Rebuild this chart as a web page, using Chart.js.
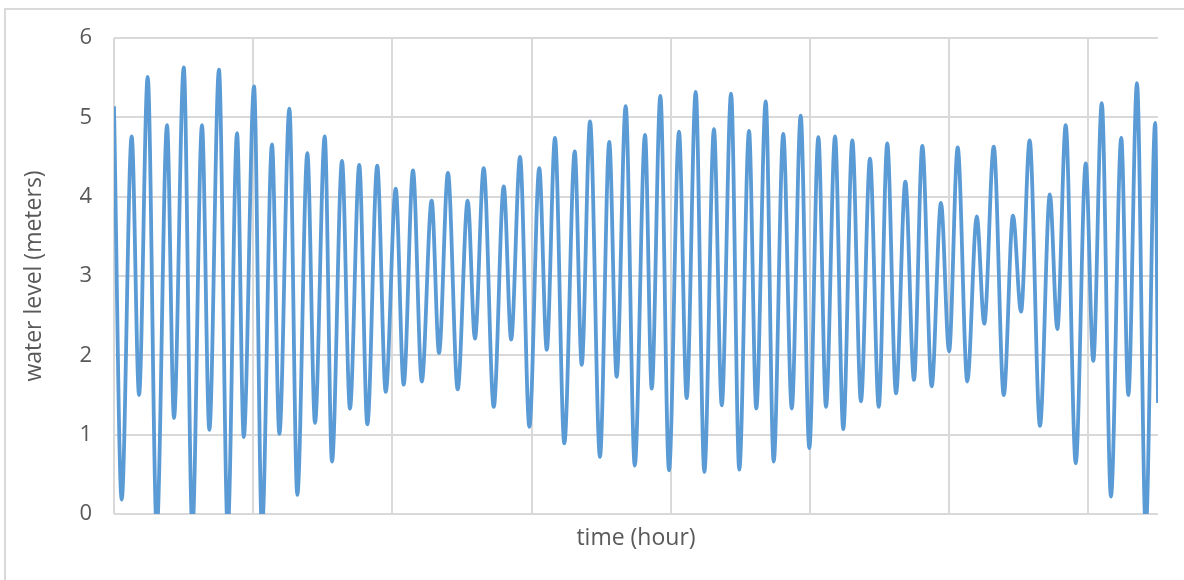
<!DOCTYPE html>
<html>
<head>
<meta charset="utf-8">
<script src="https://cdn.jsdelivr.net/npm/chart.js@4.4.1/dist/chart.umd.min.js"></script>
<style>
  html, body { margin: 0; padding: 0; background: #fff; overflow: hidden; }
  #wrap { position: relative; width: 1184px; height: 580px; overflow: hidden; }
  #frame { position: absolute; left: 4px; top: 8px; width: 1300px; height: 700px; border: 2px solid #d9d9d9; box-sizing: border-box; }
  #myChart { position: absolute; left: 0; top: 0; }
</style>
</head>
<body>
<div id="wrap">
  <div id="frame"></div>
  <canvas id="myChart" width="1184" height="580"></canvas>
</div>
<script>
// turning points of the tide curve
const hours = [0, 5.5, 12.7, 18.0, 24.2, 30.7, 38.1, 43.1, 50.1, 56.3,
  63.2, 68.5, 75.4, 81.7, 88.4, 93.2, 100.6, 106.3, 113.5, 118.8,
  126.0, 131.7, 138.9, 144.4, 151.4, 156.6, 163.8, 169.5, 176.2, 182.0,
  189.1, 195.2, 202.4, 208.1, 214.8, 221.1, 228.2, 233.5, 239.9, 246.9,
  254.1, 259.3, 265.6, 272.8, 280.0, 285.3, 291.7, 298.4, 305.5, 310.9,
  316.8, 323.5, 331.0, 336.0, 342.0, 349.1, 355.8, 361.1, 367.6, 374.1,
  381.5, 386.3, 392.5, 398.7, 405.9, 411.4, 417.9, 424.1, 431.0, 436.6,
  443.3, 449.2, 456.2, 461.4, 468.2, 473.9, 480.8, 486.9, 493.3, 499.5,
  506.0, 511.5, 518.0, 523.9, 530.4, 536.6, 543.1, 549.4, 555.5, 561.8,
  568.5, 574.7, 580.7, 587.4, 594.1, 599.9, 606.1, 613.0, 619.8, 625.2,
  632.0, 639.2, 645.8, 651.6, 657.8, 665.2, 672.3, 677.7, 683.7, 690.9,
  698.1, 703.5, 709.6, 716.2, 723.6, 728.7, 734.9, 741.2, 748.0, 750];
const levels = [5.14, 0.18, 4.76, 1.50, 5.51, -0.2, 4.90, 1.21, 5.63, -0.2,
  4.90, 1.06, 5.60, -0.2, 4.80, 0.97, 5.39, -0.2, 4.66, 1.01,
  5.11, 0.24, 4.55, 1.15, 4.76, 0.66, 4.45, 1.33, 4.40, 1.13,
  4.39, 1.54, 4.10, 1.63, 4.33, 1.67, 3.95, 2.03, 4.30, 1.57,
  3.95, 2.21, 4.36, 1.35, 4.13, 2.20, 4.50, 1.10, 4.36, 2.07,
  4.74, 0.89, 4.57, 1.88, 4.95, 0.72, 4.69, 1.73, 5.14, 0.61,
  4.78, 1.58, 5.27, 0.55, 4.82, 1.46, 5.32, 0.53, 4.85, 1.37,
  5.30, 0.56, 4.83, 1.33, 5.20, 0.66, 4.79, 1.33, 5.02, 0.83,
  4.75, 1.35, 4.76, 1.07, 4.71, 1.42, 4.48, 1.35, 4.67, 1.52,
  4.19, 1.69, 4.64, 1.61, 3.92, 2.05, 4.62, 1.67, 3.75, 2.40,
  4.63, 1.50, 3.76, 2.55, 4.71, 1.11, 4.03, 2.33, 4.90, 0.64,
  4.42, 1.93, 5.18, 0.22, 4.74, 1.50, 5.43, -0.2, 4.93, 1.40];
const yTicks = [0, 1, 2, 3, 4, 5, 6];

const lineColor = '#5b9bd5';
const gridColor = '#d9d9d9';
const textColor = '#595959';
const fontFamily = "'Open Sans', sans-serif";

const ctx = document.getElementById('myChart').getContext('2d');
new Chart(ctx, {
    type: 'line',
    data: {
        datasets: [{
            data: hours.map((h, i) => ({x: h, y: levels[i]})),
            borderColor: lineColor,
            borderWidth: 3.8,
            pointRadius: 0,
            fill: false,
            cubicInterpolationMode: 'monotone'
        }]
    },
    options: {
        responsive: false,
        devicePixelRatio: 1,
        animation: false,
        layout: {padding: {left: 0, top: 38, right: 26, bottom: 0}},
        plugins: {
            legend: {display: false},
            tooltip: {enabled: false}
        },
        scales: {
            x: {
                type: 'linear',
                min: 0,
                max: 750,
                ticks: {display: false, stepSize: 100, includeBounds: false},
                grid: {color: gridColor, lineWidth: 2, drawTicks: false},
                border: {display: false},
                title: {
                    display: true,
                    text: 'time (hour)',
                    color: textColor,
                    font: {family: fontFamily, size: 23},
                    padding: {top: 0, bottom: 28}
                },
                afterFit: s => { s.height = 66; }
            },
            y: {
                min: 0,
                max: 6,
                afterBuildTicks: s => { s.ticks = yTicks.map(v => ({value: v})); },
                ticks: {color: textColor, font: {family: fontFamily, size: 22}, padding: 22},
                grid: {color: gridColor, lineWidth: 2, drawTicks: false},
                border: {display: false},
                title: {
                    display: true,
                    text: 'water level (meters)',
                    color: textColor,
                    font: {family: fontFamily, size: 23},
                    padding: {top: 21, bottom: 0}
                },
                afterFit: s => { s.width = 114; }
            }
        }
    }
});
</script>
</body>
</html>
